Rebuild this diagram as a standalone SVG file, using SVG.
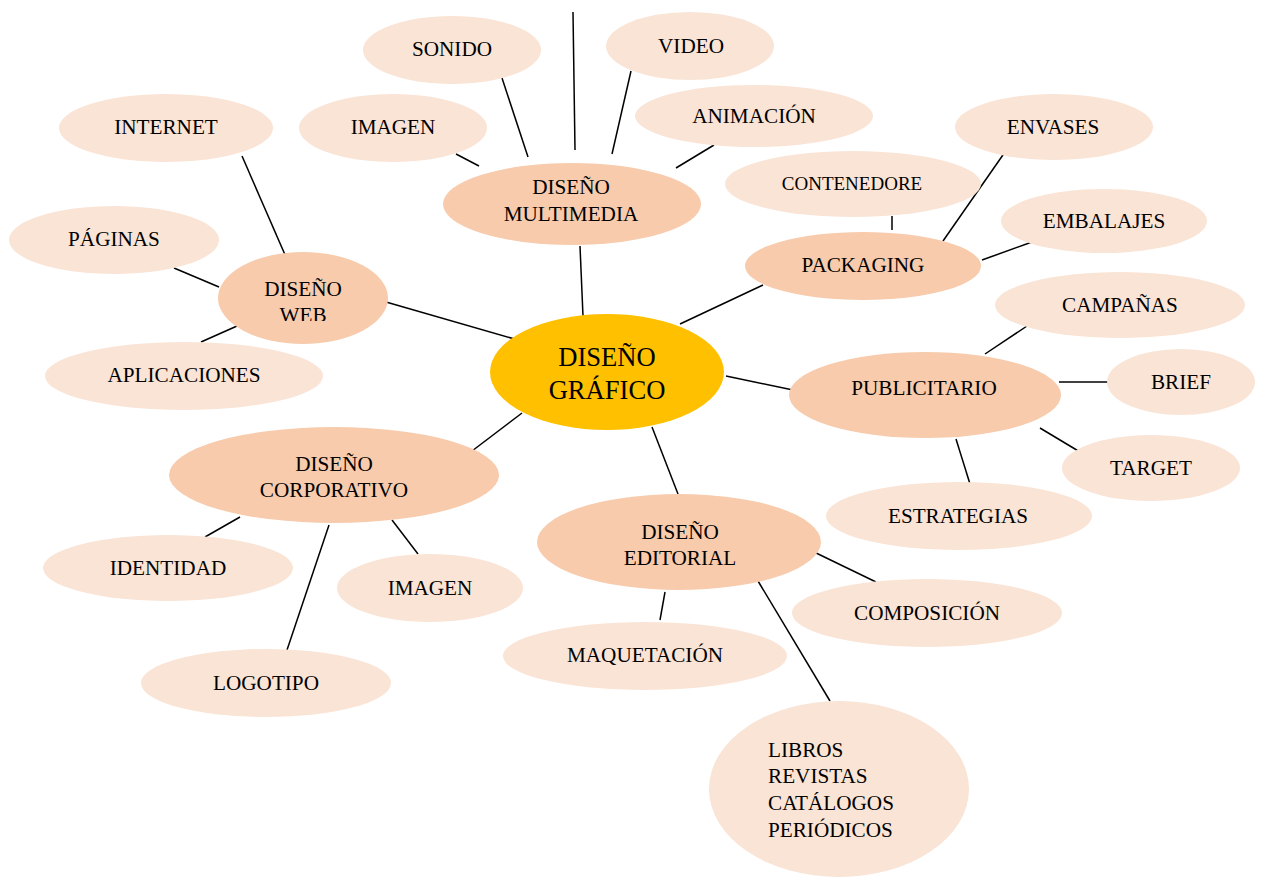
<svg xmlns="http://www.w3.org/2000/svg" width="1265" height="879" viewBox="0 0 1265 879">
<style>
.leaf{fill:#FAE4D6}
.mid{fill:#F7CBAC}
.core{fill:#FFC000}
text{font-family:"Liberation Serif","Times New Roman",serif;font-size:21.2px;fill:#000;text-anchor:middle}
.big{font-size:26.6px}
.small{font-size:19px}
.lft{text-anchor:start}
#connectors line{stroke:#000;stroke-width:1.5}
</style>
<defs>
<clipPath id="webclip"><rect x="200" y="240" width="200" height="81"/></clipPath>
</defs>
<rect width="1265" height="879" fill="#fff"/>
<g id="connectors">
<line x1="573" y1="12" x2="575" y2="150"/>
<line x1="502" y1="78" x2="528" y2="157"/>
<line x1="631" y1="71" x2="612" y2="154"/>
<line x1="456" y1="154" x2="479" y2="166"/>
<line x1="714" y1="145" x2="676" y2="168"/>
<line x1="580" y1="246" x2="583" y2="316"/>
<line x1="242" y1="156" x2="286" y2="257"/>
<line x1="174" y1="268" x2="219" y2="287"/>
<line x1="201" y1="342" x2="237" y2="326"/>
<line x1="386" y1="302" x2="518" y2="340"/>
<line x1="892" y1="216" x2="892" y2="230"/>
<line x1="1005" y1="152" x2="943" y2="241"/>
<line x1="1032" y1="242" x2="982" y2="260"/>
<line x1="763" y1="285" x2="680" y2="324"/>
<line x1="1027" y1="326" x2="985" y2="354"/>
<line x1="1059" y1="382" x2="1112" y2="382"/>
<line x1="1040" y1="428" x2="1080" y2="452"/>
<line x1="956" y1="439" x2="970" y2="484"/>
<line x1="726" y1="376" x2="793" y2="390"/>
<line x1="522" y1="413" x2="472" y2="451"/>
<line x1="240" y1="517" x2="205" y2="537"/>
<line x1="329" y1="525" x2="287" y2="650"/>
<line x1="392" y1="520" x2="418" y2="554"/>
<line x1="652" y1="427" x2="678" y2="494"/>
<line x1="812" y1="551" x2="876" y2="582"/>
<line x1="665" y1="592" x2="660" y2="620"/>
<line x1="758" y1="581" x2="830" y2="701"/>
</g>
<g id="n-sonido"><ellipse class="leaf" cx="452" cy="50" rx="89" ry="34"/><text x="452" y="56">SONIDO</text></g>
<g id="n-video"><ellipse class="leaf" cx="690" cy="46" rx="84" ry="34"/><text x="691" y="53">VIDEO</text></g>
<g id="n-imagen1"><ellipse class="leaf" cx="393" cy="128" rx="94" ry="34"/><text x="393" y="134">IMAGEN</text></g>
<g id="n-animacion"><ellipse class="leaf" cx="754" cy="116" rx="119" ry="31"/><text x="754" y="123">ANIMACIÓN</text></g>
<g id="n-multimedia"><ellipse class="mid" cx="572" cy="204" rx="129" ry="41"/><text x="571" y="194">DISEÑO</text><text x="571" y="221">MULTIMEDIA</text></g>
<g id="n-internet"><ellipse class="leaf" cx="166" cy="128" rx="107" ry="34"/><text x="166" y="134">INTERNET</text></g>
<g id="n-paginas"><ellipse class="leaf" cx="114" cy="240" rx="105" ry="34"/><text x="114" y="246">PÁGINAS</text></g>
<g id="n-web"><ellipse class="mid" cx="303" cy="298" rx="85" ry="46"/><g clip-path="url(#webclip)"><text x="303" y="296">DISEÑO</text><text x="303" y="322">WEB</text></g></g>
<g id="n-aplicaciones"><ellipse class="leaf" cx="184" cy="376" rx="139" ry="34"/><text x="184" y="382">APLICACIONES</text></g>
<g id="n-contenedore"><ellipse class="leaf" cx="853" cy="184" rx="128" ry="33"/><text class="small" x="852" y="190">CONTENEDORE</text></g>
<g id="n-envases"><ellipse class="leaf" cx="1054" cy="127" rx="99" ry="33"/><text x="1053" y="134">ENVASES</text></g>
<g id="n-embalajes"><ellipse class="leaf" cx="1104" cy="221" rx="103" ry="32"/><text x="1104" y="228">EMBALAJES</text></g>
<g id="n-packaging"><ellipse class="mid" cx="863" cy="266" rx="118" ry="34"/><text x="863" y="272">PACKAGING</text></g>
<g id="n-campanas"><ellipse class="leaf" cx="1120" cy="305" rx="125" ry="33"/><text x="1120" y="312">CAMPAÑAS</text></g>
<g id="n-publicitario"><ellipse class="mid" cx="925" cy="395" rx="136" ry="43"/><text x="924" y="395">PUBLICITARIO</text></g>
<g id="n-brief"><ellipse class="leaf" cx="1181" cy="382" rx="74" ry="33"/><text x="1181" y="389">BRIEF</text></g>
<g id="n-target"><ellipse class="leaf" cx="1151" cy="468" rx="89" ry="33"/><text x="1151" y="475">TARGET</text></g>
<g id="n-estrategias"><ellipse class="leaf" cx="959" cy="516" rx="133" ry="34"/><text x="958" y="523">ESTRATEGIAS</text></g>
<g id="n-grafico"><ellipse class="core" cx="607" cy="372" rx="117" ry="58"/><text class="big" x="607" y="366">DISEÑO</text><text class="big" x="607" y="399">GRÁFICO</text></g>
<g id="n-corporativo"><ellipse class="mid" cx="334" cy="475" rx="165" ry="48"/><text x="334" y="471">DISEÑO</text><text x="334" y="497">CORPORATIVO</text></g>
<g id="n-identidad"><ellipse class="leaf" cx="168" cy="568" rx="125" ry="33"/><text x="168" y="575">IDENTIDAD</text></g>
<g id="n-imagen2"><ellipse class="leaf" cx="430" cy="588" rx="93" ry="34"/><text x="430" y="595">IMAGEN</text></g>
<g id="n-logotipo"><ellipse class="leaf" cx="266" cy="683" rx="125" ry="34"/><text x="266" y="690">LOGOTIPO</text></g>
<g id="n-editorial"><ellipse class="mid" cx="679" cy="542" rx="142" ry="48"/><text x="680" y="539">DISEÑO</text><text x="680" y="565">EDITORIAL</text></g>
<g id="n-composicion"><ellipse class="leaf" cx="927" cy="613" rx="135" ry="34"/><text x="927" y="620">COMPOSICIÓN</text></g>
<g id="n-maquetacion"><ellipse class="leaf" cx="645" cy="656" rx="142" ry="34"/><text x="645" y="662">MAQUETACIÓN</text></g>
<g id="n-publicaciones"><ellipse class="leaf" cx="839" cy="789" rx="130" ry="88"/><text class="lft" x="768" y="757">LIBROS</text><text class="lft" x="768" y="783">REVISTAS</text><text class="lft" x="768" y="810">CATÁLOGOS</text><text class="lft" x="768" y="837">PERIÓDICOS</text></g>
</svg>
